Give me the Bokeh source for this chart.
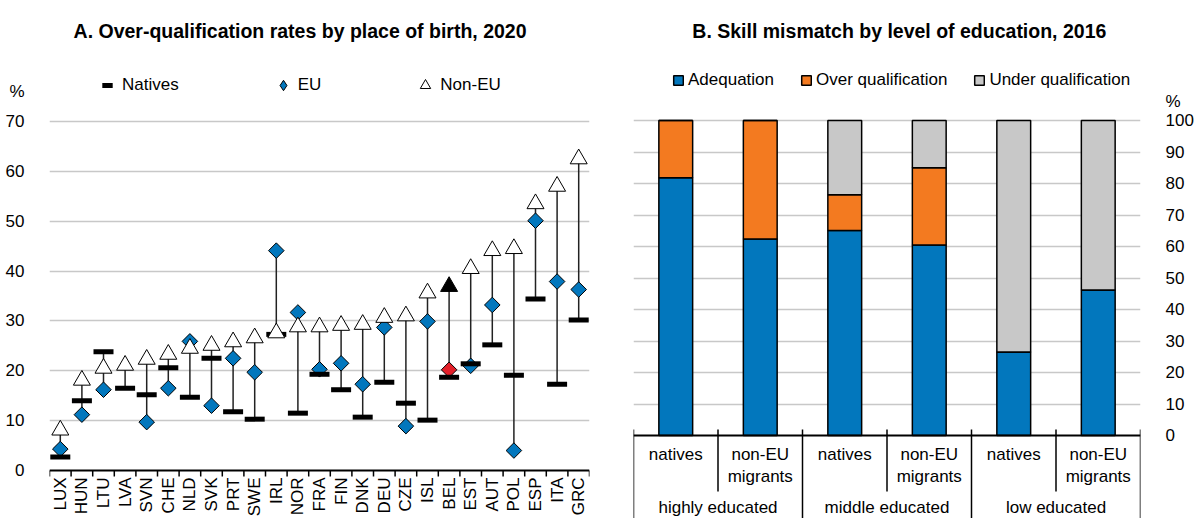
import numpy as np
from bokeh.plotting import figure
from bokeh.models import (ColumnDataSource, FixedTicker, Range1d, Legend,
                          LegendItem, Label)
from bokeh.layouts import row
from bokeh.embed import file_html
from bokeh.resources import INLINE

FONT = "Liberation Sans"
FS = "17px"

# ---------------- Panel A data ----------------
countries = ["LUX", "HUN", "LTU", "LVA", "SVN", "CHE", "NLD", "SVK", "PRT", "SWE",
             "IRL", "NOR", "FRA", "FIN", "DNK", "DEU", "CZE", "ISL", "BEL", "EST",
             "AUT", "POL", "ESP", "ITA", "GRC"]
natives = [2.7, 14.0, 23.8, 16.5, 15.2, 20.6, 14.7, 22.5, 11.8, 10.3,
           27.3, 11.5, 19.3, 16.2, 10.7, 17.7, 13.5, 10.1, 18.7, 21.4,
           25.2, 19.1, 34.4, 17.3, 30.2]
eu = [4.3, 11.2, 16.2, np.nan, 9.7, 16.5, 25.9, 13.0, 22.5, 19.7,
      44.1, 31.7, 20.3, 21.5, 17.3, 28.7, 8.9, 29.9, 20.2, 21.0,
      33.2, 4.0, 50.1, 37.9, 36.3]
non_eu = [8.1, 18.1, 20.5, 21.1, 22.3, 23.3, 24.5, 25.1, 25.8, 26.6,
          27.6, 28.8, 28.8, 29.1, 29.3, 30.7, 31.0, 35.6, 36.9, 40.5,
          44.1, 44.5, 53.5, 57.0, 62.5]
highlight = "BEL"
y_ticks_a = [0, 10, 20, 30, 40, 50, 60, 70]

# ---------------- Panel B data ----------------
groups = ["highly educated", "middle educated", "low educated"]
subgroups = [["natives"], ["non-EU", "migrants"]]
adequation = [81.8, 62.4, 65.1, 60.5, 26.5, 46.2]
over_q = [18.2, 37.6, 11.3, 24.5, 0.0, 0.0]
under_q = [0.0, 0.0, 23.6, 15.0, 73.5, 53.8]
series_b = ["Adequation", "Over qualification", "Under qualification"]
y_ticks_b = [0, 10, 20, 30, 40, 50, 60, 70, 80, 90, 100]

BLUE = "#0277bd"
ORANGE = "#f37a20"
GREY = "#c8c8c8"
RED = "#e3202a"
GRID = "#c8c8c8"
TXT = "#000000"
H = 518

# ================= Panel A =================
n = len(countries)
xs = list(range(n))
lo = np.nanmin(np.vstack([natives, eu, non_eu]), axis=0)
hi = np.nanmax(np.vstack([natives, eu, non_eu]), axis=0)
src_a = ColumnDataSource(dict(
    x=xs, natives=natives, eu=eu, non_eu=non_eu, lo=lo, hi=hi,
    eu_col=[RED if c == highlight else BLUE for c in countries],
    tri_col=["black" if c == highlight else "white" for c in countries],
))

A_PX = 349 / 70.0      # px per unit; value 0 sits at 470 px
A_ZERO = 470
p1 = figure(width=592, height=H, x_range=Range1d(-0.5, n - 0.5),
            y_range=Range1d(-(H - A_ZERO) / A_PX, A_ZERO / A_PX),
            output_backend="svg", toolbar_location=None, x_axis_location=None,
            min_border_left=49, min_border_right=3, min_border_top=0,
            min_border_bottom=0)
p1.outline_line_color = None
p1.xgrid.visible = False
p1.ygrid.ticker = FixedTicker(ticks=y_ticks_a[1:])
p1.ygrid.grid_line_color = GRID
p1.ygrid.grid_line_width = 1.5

pct_a = 76
ya = p1.yaxis[0]
ya.ticker = FixedTicker(ticks=y_ticks_a + [pct_a])
ya.major_label_overrides = {pct_a: "%"}
ya.axis_line_color = None
ya.major_tick_line_color = None
ya.minor_tick_line_color = None
ya.major_label_text_font = FONT
ya.major_label_text_font_size = FS
ya.major_label_text_color = TXT
ya.major_label_standoff = 19

# category axis (line, separators, rotated labels)
p1.segment(x0=[-0.5], y0=[0], x1=[n - 0.5], y1=[0], line_color="black", line_width=2)
bx = [i - 0.5 for i in range(n + 1)]
p1.segment(x0=bx, y0=[0] * len(bx), x1=bx, y1=[-6 / A_PX] * len(bx),
           line_color="black", line_width=1.5)
for i, c in enumerate(countries):
    p1.add_layout(Label(x=i, y=-7 / A_PX, text=c, angle=np.pi / 2,
                        text_font=FONT, text_font_size=FS, text_align="right",
                        text_baseline="middle", text_color=TXT))

p1.segment(x0="x", y0="lo", x1="x", y1="hi", source=src_a,
           line_color="#222222", line_width=1.5)
r_eu = p1.scatter(x="x", y="eu", source=src_a, marker="square", angle=np.pi / 4,
                  size=11, fill_color="eu_col", line_color="black", line_width=1)
r_nat = p1.scatter(x="x", y="natives", source=src_a, marker="dash", size=20,
                   line_color="black", line_width=5)
r_non = p1.scatter(x="x", y="non_eu", source=src_a, marker="triangle", size=17,
                   fill_color="tri_col", line_color="black", line_width=1)
# legend proxy for the EU diamond (a single undrawn NaN point)
r_eu_leg = p1.scatter(x=[np.nan], y=[np.nan], marker="diamond", size=11,
                      fill_color=BLUE, line_color="black", line_width=1)

leg1 = Legend(items=[LegendItem(label="Natives", renderers=[r_nat]),
                     LegendItem(label="EU", renderers=[r_eu_leg]),
                     LegendItem(label="Non-EU", renderers=[r_non])],
              location=(45, H - 98), orientation="horizontal", spacing=91,
              glyph_width=26, glyph_height=26, label_standoff=2,
              padding=0, margin=0, background_fill_alpha=0,
              border_line_alpha=0, label_text_font=FONT,
              label_text_font_size=FS, label_text_color=TXT)
p1.add_layout(leg1)

p1.add_layout(Label(x=11.1, y=(A_ZERO - 30) / A_PX,
                    text="A. Over-qualification rates by place of birth, 2020",
                    text_font=FONT, text_font_size="19.5px", text_font_style="bold",
                    text_align="center", text_baseline="middle", text_color=TXT))

# ================= Panel B =================
m = len(adequation)
xb = list(range(m))
src_b = ColumnDataSource(dict(x=xb, Adequation=adequation,
                              **{"Over qualification": over_q,
                                 "Under qualification": under_q}))

B_PX = 3.15   # px per unit; value 0 sits at 435 px
B_ZERO = 435
p2 = figure(width=604, height=H, x_range=Range1d(-0.5, m - 0.5),
            y_range=Range1d(-(H - B_ZERO) / B_PX, B_ZERO / B_PX),
            output_backend="svg", toolbar_location=None,
            y_axis_location="right", x_axis_location=None,
            min_border_left=41, min_border_right=48, min_border_top=0,
            min_border_bottom=0)
p2.outline_line_color = None
p2.xgrid.visible = False
p2.ygrid.ticker = FixedTicker(ticks=y_ticks_b[1:])
p2.ygrid.grid_line_color = GRID
p2.ygrid.grid_line_width = 1.5

rs = p2.vbar_stack(series_b, x="x", width=0.4, source=src_b,
                   fill_color=[BLUE, ORANGE, GREY], line_color="black",
                   line_width=1.5)

pct_b = 106
yb = p2.yaxis[0]
yb.ticker = FixedTicker(ticks=y_ticks_b + [pct_b])
yb.major_label_overrides = {pct_b: "%"}
yb.axis_line_color = None
yb.major_tick_line_color = None
yb.minor_tick_line_color = None
yb.major_label_text_font = FONT
yb.major_label_text_font_size = FS
yb.major_label_text_color = TXT
yb.major_label_standoff = 19

# category table under the bars
ng = len(groups)
per = m // ng
up = 6 / B_PX
bottom = -(H - B_ZERO) / B_PX
inner_bottom = -(491 - B_ZERO) / B_PX
p2.segment(x0=[-0.5], y0=[0], x1=[m - 0.5], y1=[0], line_color="black", line_width=2)
gx = [g * per - 0.5 for g in range(ng + 1)]
p2.segment(x0=gx, y0=[up] * len(gx), x1=gx, y1=[bottom] * len(gx),
           line_color="black", line_width=1.5)
ix = [g * per + 0.5 for g in range(ng)]
p2.segment(x0=ix, y0=[up] * len(ix), x1=ix, y1=[inner_bottom] * len(ix),
           line_color="black", line_width=1.5)

for i in range(m):
    lines = subgroups[i % per]
    for k, t in enumerate(lines):
        p2.add_layout(Label(x=i, y=-(444 - B_ZERO) / B_PX - 7.3 * k, text=t,
                            text_font=FONT, text_font_size=FS, text_align="center",
                            text_baseline="top", text_color=TXT))
for g, name in enumerate(groups):
    p2.add_layout(Label(x=g * per + (per - 1) / 2, y=-(497 - B_ZERO) / B_PX, text=name,
                        text_font=FONT, text_font_size=FS, text_align="center",
                        text_baseline="top", text_color=TXT))

leg2 = Legend(items=[LegendItem(label=s, renderers=[r]) for s, r in zip(series_b, rs)],
              location=(39, H - 90), orientation="horizontal", spacing=26,
              glyph_width=12, glyph_height=12, label_standoff=4,
              padding=0, margin=0, background_fill_alpha=0,
              border_line_alpha=0, label_text_font=FONT,
              label_text_font_size=FS, label_text_color=TXT)
p2.add_layout(leg2)

p2.add_layout(Label(x=2.646, y=(B_ZERO - 30) / B_PX,
                    text="B. Skill mismatch by level of education, 2016",
                    text_font=FONT, text_font_size="19.5px", text_font_style="bold",
                    text_align="center", text_baseline="middle", text_color=TXT))

layout = row(p1, p2, spacing=0)
open("out.html", "w").write(file_html(layout, INLINE))
